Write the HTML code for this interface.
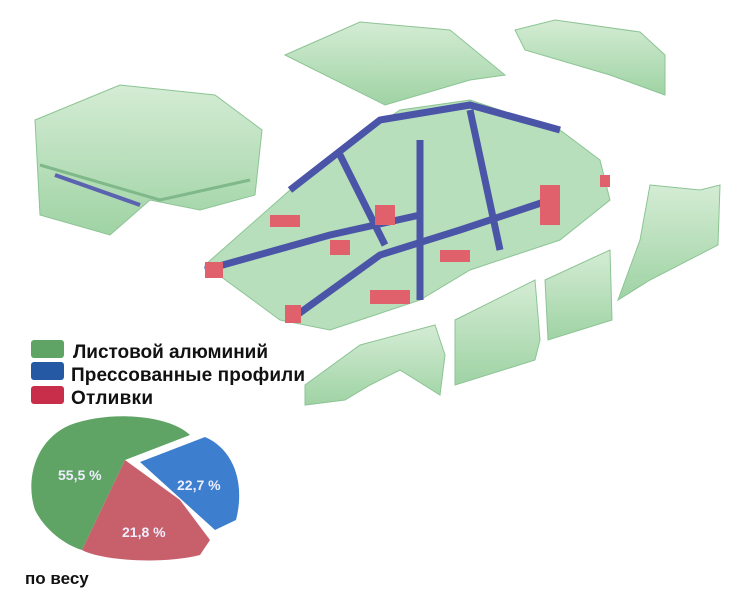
<!DOCTYPE html>
<html><head><meta charset="utf-8"><style>
body{margin:0;background:#fff;}
svg{display:block}
text{font-family:"Liberation Sans",sans-serif;font-weight:bold}
</style></head><body>
<svg width="748" height="605" viewBox="0 0 748 605">
<defs>
<linearGradient id="g" x1="0" y1="0" x2="0" y2="1"><stop offset="0" stop-color="#d4ecd4"/><stop offset="1" stop-color="#9fd3a4"/></linearGradient>
</defs>
<!-- hood -->
<path d="M35 120 L120 85 L215 95 L262 130 L255 195 L200 210 L150 200 L110 235 L40 215 Z" fill="url(#g)" stroke="#8cc494"/>
<path d="M40 165 L160 200 L250 180" fill="none" stroke="#7fb889" stroke-width="3"/>
<path d="M55 175 L140 205" stroke="#5b62b0" stroke-width="4"/>
<!-- roof -->
<path d="M285 55 L360 22 L450 30 L505 75 L470 80 L385 105 Z" fill="url(#g)" stroke="#8cc494"/>
<!-- trunk lid -->
<path d="M515 30 L555 20 L640 32 L665 55 L665 95 L610 75 L525 50 Z" fill="url(#g)" stroke="#8cc494"/>
<!-- body -->
<path d="M205 265 L290 190 L340 150 L400 110 L470 100 L560 130 L600 160 L610 200 L560 240 L470 270 L420 300 L330 330 L280 320 Z" fill="#b8dfbc" stroke="#8cc494"/>
<path d="M290 190 L380 120 L470 105 L560 130 M340 155 L385 245 M420 140 L420 300 M470 110 L500 250 M205 270 L330 235 L420 215 M290 320 L380 255 L460 230 L550 200" fill="none" stroke="#4a55a8" stroke-width="7"/>
<g fill="#e0606c"><rect x="205" y="262" width="18" height="16"/><rect x="285" y="305" width="16" height="18"/><rect x="330" y="240" width="20" height="15"/><rect x="370" y="290" width="40" height="14"/><rect x="440" y="250" width="30" height="12"/><rect x="540" y="185" width="20" height="40"/><rect x="375" y="205" width="20" height="20"/><rect x="270" y="215" width="30" height="12"/><rect x="600" y="175" width="10" height="12"/></g>
<!-- rear fender -->
<path d="M650 185 L700 190 L720 185 L718 245 L650 280 L618 300 L640 240 Z" fill="url(#g)" stroke="#8cc494"/>
<!-- doors -->
<path d="M455 320 L535 280 L540 340 L535 360 L455 385 Z" fill="url(#g)" stroke="#8cc494"/>
<path d="M545 280 L610 250 L612 320 L548 340 Z" fill="url(#g)" stroke="#8cc494"/>
<!-- front fender -->
<path d="M305 385 L360 345 L435 325 L445 355 L440 395 L400 370 L370 385 L345 400 L305 405 Z" fill="url(#g)" stroke="#8cc494"/>
<!-- legend -->
<rect x="31" y="340" width="33" height="18" rx="3" fill="#5fa464"/>
<rect x="31" y="362" width="33" height="18" rx="3" fill="#2659a3"/>
<rect x="31" y="386" width="33" height="18" rx="3" fill="#c82e49"/>
<text x="73" y="358" font-size="19" textLength="195" fill="#111">Листовой алюминий</text>
<text x="71" y="381" font-size="19" textLength="234" fill="#111">Прессованные профили</text>
<text x="71" y="404" font-size="19" textLength="82" fill="#111">Отливки</text>
<!-- pie -->
<path d="M125 460 L190 435 C170 415 110 410 70 425 C35 440 25 480 35 510 C45 530 65 545 82 550 Z" fill="#5fa464"/>
<path d="M125 460 L82 550 C100 560 160 565 200 555 L210 540 L180 500 Z" fill="#c7606b"/>
<path d="M140 462 L205 437 C235 450 245 485 236 520 L215 530 Z" fill="#3d7fce"/>
<text x="58" y="480" font-size="14" fill="#eef">55,5 %</text>
<text x="177" y="490" font-size="14" fill="#eef">22,7 %</text>
<text x="122" y="537" font-size="14" fill="#eef">21,8 %</text>
<text x="25" y="584" font-size="17" fill="#111">по весу</text>
</svg>
</body></html>
